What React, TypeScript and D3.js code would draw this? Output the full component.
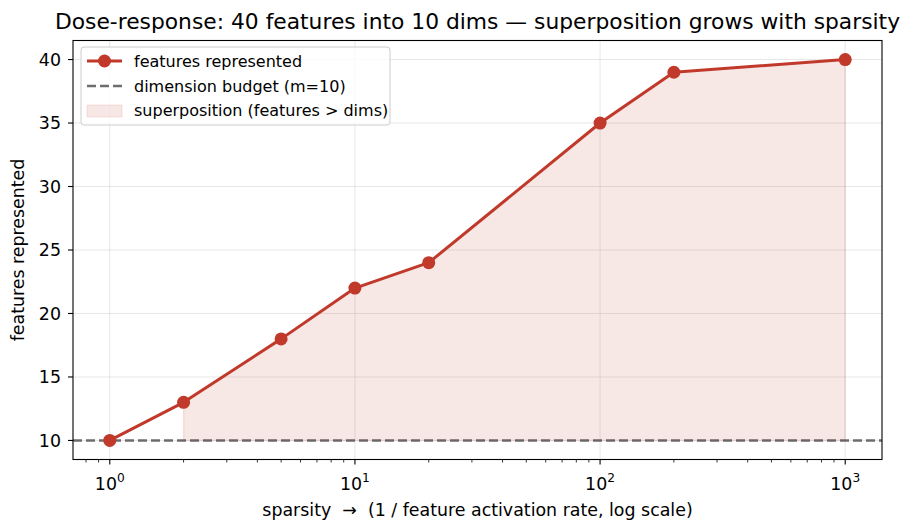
import React from "react";
import * as d3 from "d3";

const sparsity = [1, 2, 5, 10, 20, 100, 200, 1000];
const featuresRepresented = [10, 13, 18, 22, 24, 35, 39, 40];
const dimensionBudget = 10;
const yTicks = [10, 15, 20, 25, 30, 35, 40];
const xMajorExponents = [0, 1, 2, 3];

const W = 915;
const H = 532;
const margin = { top: 40.5, right: 33, bottom: 72.5, left: 73 };
const RED = "#c0392b";
const FONT = "DejaVu Sans, sans-serif";
const TICK_FS = 17.4;
const LEGEND_FS = 16;

export default function App() {
  const iw = W - margin.left - margin.right;
  const ih = H - margin.top - margin.bottom;

  const x = d3.scaleLog().domain([Math.pow(10, -0.15), Math.pow(10, 3.15)]).range([0, iw]);
  const y = d3.scaleLinear().domain([8.5, 41.5]).range([ih, 0]);

  const pts = sparsity.map((s, i) => ({ s, f: featuresRepresented[i] }));
  const line = d3.line<{ s: number; f: number }>().x(d => x(d.s)).y(d => y(d.f));
  const fillPts = pts.filter(d => d.f > dimensionBudget);
  const area = d3.area<{ s: number; f: number }>()
    .x(d => x(d.s)).y0(() => y(dimensionBudget)).y1(d => y(d.f));

  const minorTicks = x.ticks().filter(t => {
    const l = Math.log10(t);
    return Math.abs(l - Math.round(l)) > 1e-9;
  });

  return (
    <svg width={W} height={H} style={{ position: "absolute", left: 0, top: 0, background: "#fff" }} fontFamily={FONT}>
      <text x={margin.left + iw / 2} y={28.5} textAnchor="middle" fontSize={21.8} fill="#000">
        Dose-response: 40 features into 10 dims — superposition grows with sparsity
      </text>
      <g transform={`translate(${margin.left},${margin.top})`}>
        {/* grid */}
        {xMajorExponents.map(e => (
          <line key={"gx" + e} x1={x(Math.pow(10, e))} x2={x(Math.pow(10, e))} y1={0} y2={ih} stroke="#b0b0b0" strokeOpacity={0.3} strokeWidth={1} />
        ))}
        {yTicks.map(t => (
          <line key={"gy" + t} x1={0} x2={iw} y1={y(t)} y2={y(t)} stroke="#b0b0b0" strokeOpacity={0.3} strokeWidth={1} />
        ))}

        {/* superposition region */}
        <path d={area(fillPts) || ""} fill={RED} fillOpacity={0.12} stroke={RED} strokeOpacity={0.12} strokeWidth={1.4} />

        {/* dimension budget */}
        <line x1={0} x2={iw} y1={y(dimensionBudget)} y2={y(dimensionBudget)} stroke="#555" strokeOpacity={0.85} strokeWidth={2.4} strokeDasharray="9,4" />

        {/* features line */}
        <path d={line(pts) || ""} fill="none" stroke={RED} strokeWidth={3} strokeLinejoin="round" />
        {pts.map(d => (
          <circle key={d.s} cx={x(d.s)} cy={y(d.f)} r={6.5} fill={RED} />
        ))}

        {/* axes frame */}
        <rect x={0} y={0} width={iw} height={ih} fill="none" stroke="#000" strokeWidth={1.1} />

        {/* y ticks */}
        {yTicks.map(t => (
          <g key={"yt" + t} transform={`translate(0,${y(t)})`}>
            <line x1={-5} x2={0} stroke="#000" strokeWidth={1.1} />
            <text x={-12} dy="0.36em" textAnchor="end" fontSize={TICK_FS} fill="#000">{t}</text>
          </g>
        ))}

        {/* x ticks */}
        {minorTicks.map(t => (
          <line key={"mt" + t} x1={x(t)} x2={x(t)} y1={ih} y2={ih + 3} stroke="#000" strokeWidth={0.8} />
        ))}
        {xMajorExponents.map(e => (
          <g key={"xt" + e} transform={`translate(${x(Math.pow(10, e))},${ih})`}>
            <line y1={0} y2={5} stroke="#000" strokeWidth={1.1} />
            <text y={30} textAnchor="middle" fontSize={TICK_FS} fill="#000">
              10<tspan dy={-7.5} fontSize={12.2}>{e}</tspan>
            </text>
          </g>
        ))}

        {/* axis labels */}
        <text x={iw / 2} y={ih + 56} textAnchor="middle" fontSize={TICK_FS} fill="#000">
          {"sparsity\u00a0\u00a0→\u00a0\u00a0(1 / feature activation rate, log scale)"}
        </text>
        <text transform={`translate(${-49},${ih / 2}) rotate(-90)`} textAnchor="middle" fontSize={TICK_FS} fill="#000">
          features represented
        </text>

        {/* legend */}
        <g transform="translate(8,6.5)">
          <rect x={0} y={0} width={309} height={78} rx={3} fill="#fff" fillOpacity={0.8} stroke="#ccc" strokeWidth={1} />
          <line x1={6} x2={41} y1={14} y2={14} stroke={RED} strokeWidth={3} />
          <circle cx={23.5} cy={14} r={6.5} fill={RED} />
          <text x={53} y={14} dy="0.36em" fontSize={LEGEND_FS} fill="#000">features represented</text>
          <line x1={6} x2={41} y1={39} y2={39} stroke="#555" strokeOpacity={0.85} strokeWidth={2.4} strokeDasharray="9,4" />
          <text x={53} y={39} dy="0.36em" fontSize={LEGEND_FS} fill="#000">dimension budget (m=10)</text>
          <rect x={6} y={58} width={35} height={12} fill={RED} fillOpacity={0.12} stroke={RED} strokeOpacity={0.12} />
          <text x={53} y={63.5} dy="0.36em" fontSize={LEGEND_FS} fill="#000">superposition (features &gt; dims)</text>
        </g>
      </g>
    </svg>
  );
}
